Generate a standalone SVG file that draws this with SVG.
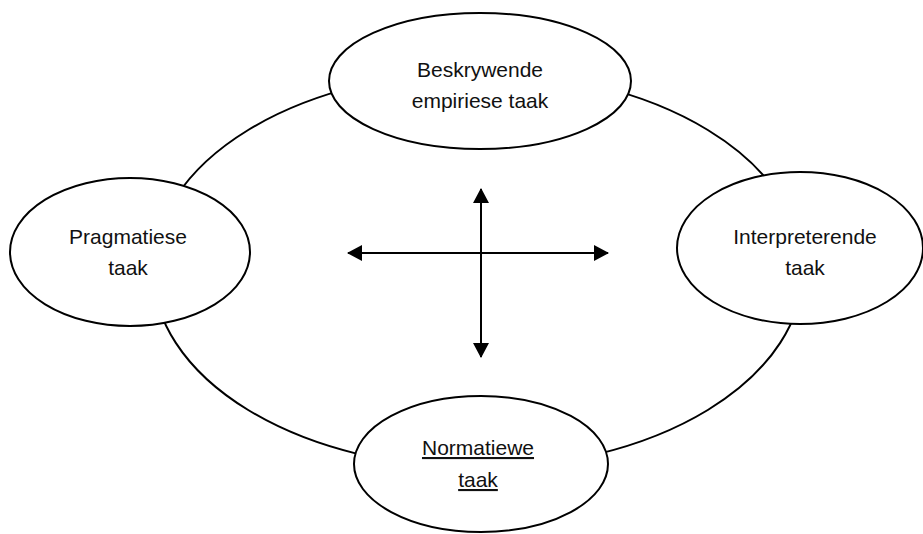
<svg xmlns="http://www.w3.org/2000/svg" width="923" height="534" viewBox="0 0 923 534">
  <style>
    .ring { fill: none; stroke: #000; stroke-width: 2; }
    .node { fill: #fff; stroke: #000; stroke-width: 2; }
    .arrow { stroke: #000; stroke-width: 2; fill: none; marker-start: url(#head); marker-end: url(#head); }
    text { font-family: "Liberation Sans", Arial, sans-serif; font-size: 21px; fill: #111; text-anchor: middle; }
    .ul { text-decoration: underline; }
  </style>
  <defs>
    <marker id="head" viewBox="0 0 15 16" markerWidth="15" markerHeight="16" refX="14" refY="8" orient="auto-start-reverse" markerUnits="userSpaceOnUse">
      <path d="M0,0 L15,8 L0,16 Z" fill="#000"/>
    </marker>
  </defs>
  <rect width="923" height="534" fill="#fff"/>

  <!-- ring linking the four tasks -->
  <g id="connectors">
    <ellipse class="ring" cx="478" cy="270" rx="325" ry="198"/>
  </g>

  <!-- central cross of double-headed arrows -->
  <g id="cross">
    <line class="arrow" x1="348" y1="253" x2="608" y2="253"/>
    <line class="arrow" x1="481" y1="189" x2="481" y2="357"/>
  </g>

  <g id="node-beskrywende">
    <ellipse class="node" cx="480" cy="81" rx="151" ry="68"/>
    <text x="480" y="77">Beskrywende</text>
    <text x="480" y="108">empiriese taak</text>
  </g>

  <g id="node-pragmatiese">
    <ellipse class="node" cx="130" cy="252" rx="120" ry="74"/>
    <text x="128" y="244">Pragmatiese</text>
    <text x="128" y="275">taak</text>
  </g>

  <g id="node-interpreterende">
    <ellipse class="node" cx="800" cy="248" rx="123" ry="76"/>
    <text x="805" y="244">Interpreterende</text>
    <text x="805" y="275">taak</text>
  </g>

  <g id="node-normatiewe">
    <ellipse class="node" cx="481" cy="464" rx="127" ry="68"/>
    <text class="ul" x="478" y="455">Normatiewe</text>
    <text class="ul" x="478" y="487">taak</text>
  </g>
</svg>
